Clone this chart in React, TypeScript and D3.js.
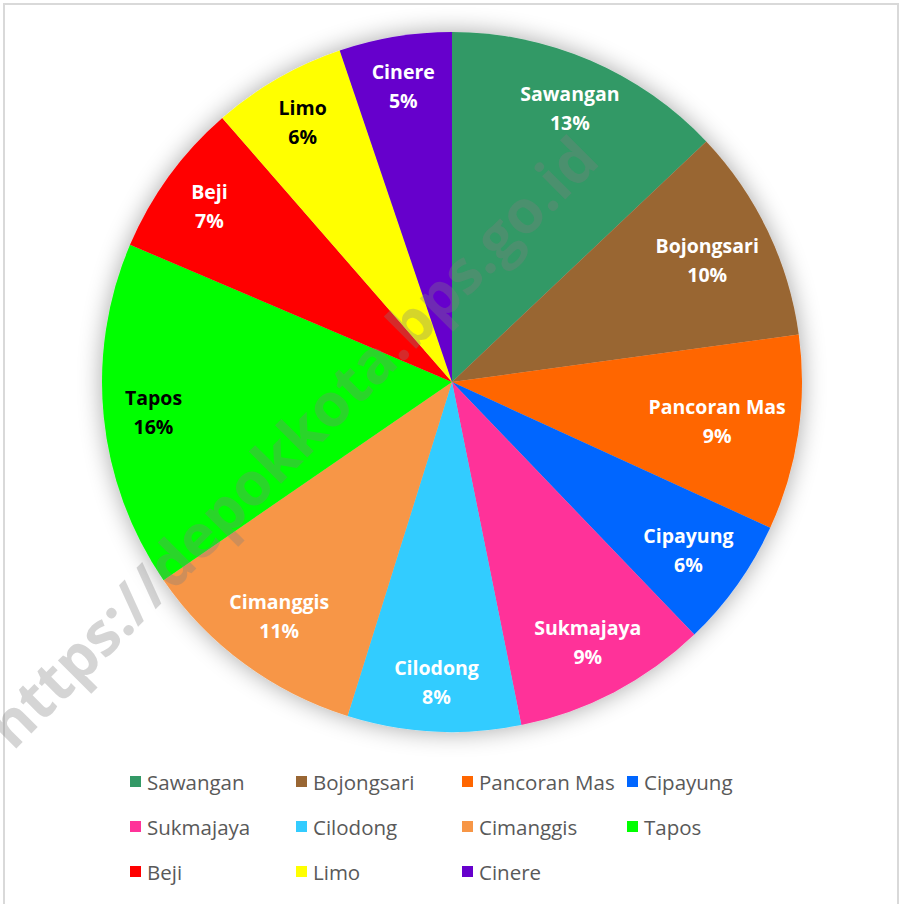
import React from "react";
import * as d3 from "d3";

const categories = ["Sawangan", "Bojongsari", "Pancoran Mas", "Cipayung", "Sukmajaya", "Cilodong", "Cimanggis", "Tapos", "Beji", "Limo", "Cinere"];
const values = [12.95, 9.9, 9.0, 6.0, 9.0, 8.0, 10.6, 16.0, 7.2, 6.2, 5.2];
const colors = ["#339966", "#996633", "#FF6600", "#0066FF", "#FF3399", "#33CCFF", "#F79646", "#00FF00", "#FF0000", "#FFFF00", "#6600CC"];
const labelColors = ["#fff", "#fff", "#fff", "#fff", "#fff", "#fff", "#fff", "#000", "#fff", "#000", "#fff"];
const watermark = "https://depokkota.bps.go.id";

const W = 902, H = 904;
const cx = 452, cy = 382, R = 350, labelR = 300;
const font = "'Open Sans', 'Noto Sans', sans-serif";
const labelSize = 19.5;

function measure(text: string, size: number, weight: string) {
  const c = document.createElement("canvas").getContext("2d");
  if (!c) return text.length * size * 0.6;
  c.font = `${weight} ${size}px 'Open Sans'`;
  return c.measureText(text).width;
}

export default function App() {
  const items = categories.map((c, i) => ({ name: c, value: values[i], color: colors[i], lc: labelColors[i] }));
  const total = d3.sum(values);
  const pie = d3.pie<any>().value((d) => d.value).sort(null);
  const arcs = pie(items);
  const arc = d3.arc<any>().innerRadius(0).outerRadius(R);

  const limit = R - 10;
  const labels = arcs.map((a) => {
    const mid = (a.startAngle + a.endAngle) / 2;
    const w = measure(a.data.name, labelSize, "bold");
    const hw = w / 2, hh = 22;
    let r = labelR;
    for (; r > 100; r -= 1) {
      const x = r * Math.sin(mid), y = -r * Math.cos(mid);
      const corners = [[x - hw, y - hh], [x + hw, y - hh], [x - hw, y + hh], [x + hw, y + hh]];
      if (corners.every(([px, py]) => Math.hypot(px, py) <= limit)) break;
    }
    return { x: r * Math.sin(mid), y: -r * Math.cos(mid) };
  });

  const legendCols = [130, 296, 462, 627];
  const legendRows = [782, 827, 872];

  return (
    <svg width={W} height={H} style={{ position: "absolute", left: 0, top: 0 }}>
      <defs>
        <filter id="shadow" x="-20%" y="-20%" width="140%" height="140%">
          <feGaussianBlur in="SourceAlpha" stdDeviation="12" />
          <feComponentTransfer>
            <feFuncA type="linear" slope="0.35" />
          </feComponentTransfer>
          <feMerge>
            <feMergeNode />
            <feMergeNode in="SourceGraphic" />
          </feMerge>
        </filter>
      </defs>
      <rect x={0} y={0} width={W} height={H} fill="#fff" />
      <rect x={4} y={4} width={W - 8} height={H + 4} fill="#fff" stroke="#d9d9d9" strokeWidth={2} />
      <g transform={`translate(${cx},${cy})`}>
        <g filter="url(#shadow)">
          {arcs.map((a, i) => (
            <path key={i} d={arc(a) as string} fill={a.data.color} />
          ))}
        </g>
        {arcs.map((a, i) => {
          const { x, y } = labels[i];
          const pct = Math.round((a.data.value / total) * 100);
          return (
            <text key={i} x={x} y={y} textAnchor="middle" fill={a.data.lc} fontFamily={font} fontWeight="bold" fontSize={labelSize}>
              <tspan x={x} dy={-7}>{a.data.name}</tspan>
              <tspan x={x} dy={29}>{pct}%</tspan>
            </text>
          );
        })}
      </g>
      <text
        transform="translate(296,446) rotate(-45)"
        textAnchor="middle"
        dominantBaseline="middle"
        fontFamily={font}
        fontWeight="bold"
        fontSize={60}
        fill="#808080"
        fillOpacity={0.33}
      >
        {watermark}
      </text>
      {items.map((d, i) => {
        const col = i % 4, row = Math.floor(i / 4);
        const x = legendCols[col], y = legendRows[row];
        return (
          <g key={i}>
            <rect x={x} y={y - 6} width={11} height={11} fill={d.color} />
            <text x={x + 17} y={y} dominantBaseline="central" fontFamily={font} fontSize={20.5} fill="#595959">
              {d.name}
            </text>
          </g>
        );
      })}
    </svg>
  );
}
